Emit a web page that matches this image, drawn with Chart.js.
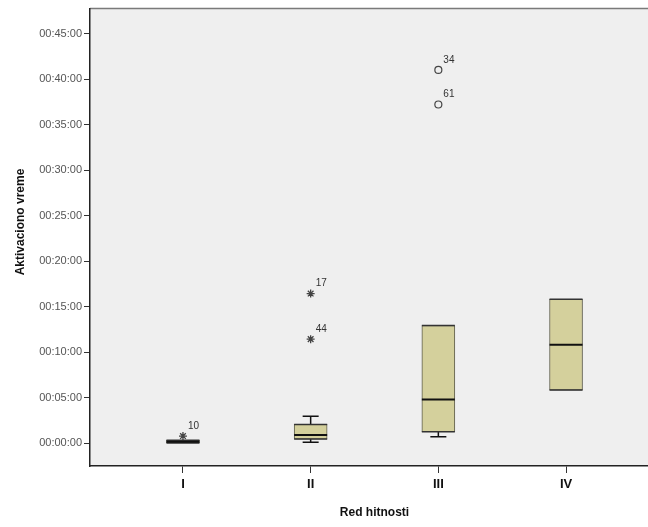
<!DOCTYPE html>
<html>
<head>
<meta charset="utf-8">
<script src="https://cdn.jsdelivr.net/npm/chart.js@4/dist/chart.umd.min.js"></script>
<style>
html,body{margin:0;padding:0;overflow:hidden;background:#fff;}
canvas{display:block;}
</style>
</head>
<body>
<canvas id="c" width="670" height="527"></canvas>
<script>
// ---- data (minutes) ----
const categories = ['I', 'II', 'III', 'IV'];
const whiskerLow  = [0.0, 0.08, 0.69, 5.82];
const q1          = [0.0, 0.44, 1.24, 5.82];
const median      = [0.15, 0.88, 4.8, 10.79];
const q3          = [0.3, 2.05, 12.92, 15.8];
const whiskerHigh = [0.3, 2.96, 12.92, 15.8];
const outlierCat   = [3, 3];
const outlierVal   = [41.0, 37.2];
const outlierLabel = ['34', '61'];
const extremeCat   = [1, 2, 2];
const extremeVal   = [0.77, 16.43, 11.42];
const extremeLabel = ['10', '17', '44'];
const yTicks = [0, 5, 10, 15, 20, 25, 30, 35, 40, 45];

function fmt(v){ const m = String(v).padStart(2,'0'); return '00:' + m + ':00'; }

const boxData = categories.map((c,i)=>({x:i+1, y:[q1[i], q3[i]]}));
const outData = outlierVal.map((v,i)=>({x:outlierCat[i], y:v, label:outlierLabel[i]}));
const extData = extremeVal.map((v,i)=>({x:extremeCat[i], y:v, label:extremeLabel[i]}));

const decor = {
  id:'decor',
  beforeDraw(chart){
    const {ctx, chartArea:a} = chart;
    ctx.save();
    ctx.fillStyle = '#efefef';
    ctx.fillRect(a.left, a.top, a.right-a.left, a.bottom-a.top);
    ctx.strokeStyle = '#7a7a7a';
    ctx.lineWidth = 1.5;
    ctx.beginPath(); ctx.moveTo(a.left, a.top); ctx.lineTo(a.right, a.top); ctx.lineTo(a.right, a.bottom); ctx.stroke();
    ctx.restore();
  },
  afterDatasetsDraw(chart){
    const {ctx} = chart;
    const xs = chart.scales.x, ys = chart.scales.y;
    ctx.save();
    ctx.strokeStyle = '#111';
    categories.forEach((c,i)=>{
      const x = xs.getPixelForValue(i+1);
      const half = 16.5, cap = 8;
      // whiskers
      ctx.lineWidth = 1.5;
      ctx.beginPath();
      ctx.moveTo(x, ys.getPixelForValue(q3[i])); ctx.lineTo(x, ys.getPixelForValue(whiskerHigh[i]));
      ctx.moveTo(x, ys.getPixelForValue(q1[i])); ctx.lineTo(x, ys.getPixelForValue(whiskerLow[i]));
      if (whiskerHigh[i] > q3[i]) { ctx.moveTo(x-cap, ys.getPixelForValue(whiskerHigh[i])); ctx.lineTo(x+cap, ys.getPixelForValue(whiskerHigh[i])); }
      if (whiskerLow[i] < q1[i]) { ctx.moveTo(x-cap, ys.getPixelForValue(whiskerLow[i])); ctx.lineTo(x+cap, ys.getPixelForValue(whiskerLow[i])); }
      ctx.stroke();
      // box ends drawn slightly darker (SPSS style)
      ctx.lineWidth = 1.5;
      ctx.strokeStyle = '#333';
      ctx.beginPath();
      ctx.moveTo(x-half, ys.getPixelForValue(q3[i])); ctx.lineTo(x+half, ys.getPixelForValue(q3[i]));
      ctx.moveTo(x-half, ys.getPixelForValue(q1[i])); ctx.lineTo(x+half, ys.getPixelForValue(q1[i]));
      ctx.stroke();
      // median
      ctx.strokeStyle = '#111';
      ctx.lineWidth = 2;
      ctx.beginPath();
      ctx.moveTo(x-half, ys.getPixelForValue(median[i])); ctx.lineTo(x+half, ys.getPixelForValue(median[i]));
      ctx.stroke();
    });
    // point labels
    ctx.fillStyle = '#333';
    ctx.font = '10px "Liberation Sans", Arial, sans-serif';
    ctx.textAlign = 'left'; ctx.textBaseline = 'bottom';
    [...outData, ...extData].forEach(p=>{
      ctx.fillText(p.label, xs.getPixelForValue(p.x)+5, ys.getPixelForValue(p.y)-5);
    });
    // axis titles
    ctx.fillStyle = '#111';
    ctx.font = 'bold 12px "Liberation Sans", Arial, sans-serif';
    ctx.textAlign = 'center'; ctx.textBaseline = 'middle';
    ctx.fillText('Red hitnosti', (chart.chartArea.left+chart.chartArea.right)/2, 513);
    ctx.translate(21, 222);
    ctx.rotate(-Math.PI/2);
    ctx.fillText('Aktivaciono vreme', 0, 0);
    ctx.restore();
  }
};

new Chart(document.getElementById('c'), {
  type:'bar',
  data:{
    datasets:[
      {type:'bar', data:boxData, backgroundColor:'#d4d09c', borderColor:'#5f5e4c', borderWidth:1, borderSkipped:false, barThickness:33, order:2},
      {type:'scatter', data:outData, pointStyle:'circle', radius:3.5, borderColor:'#444', backgroundColor:'rgba(0,0,0,0)', borderWidth:1.2, order:1},
      {type:'scatter', data:extData, pointStyle:'star', radius:4, borderColor:'#444', backgroundColor:'#444', borderWidth:1.3, order:1}
    ]
  },
  options:{
    responsive:false, animation:false,
    layout:{padding:{top:8, right:11, left:0, bottom:0}},
    plugins:{legend:{display:false}, tooltip:{enabled:false}},
    scales:{
      x:{
        type:'linear', min:0.272, max:4.728, offset:false,
        afterBuildTicks(s){ s.ticks = categories.map((c,i)=>({value:i+1})); },
        afterFit(s){ s.height = 61; },
        ticks:{callback:(v)=>categories[v-1] || '', color:'#111', font:{family:'"Liberation Sans", Arial, sans-serif', size:13, weight:'bold'}, padding:4, maxRotation:0},
        grid:{display:true, offset:false, drawOnChartArea:false, drawTicks:true, tickLength:7, color:'#333', lineWidth:1},
        border:{display:true, color:'#222', width:1.5}
      },
      y:{
        type:'linear', min:-2.52, max:47.74,
        afterBuildTicks(s){ s.ticks = yTicks.map(v=>({value:v})); },
        afterFit(s){ s.width = 90; },
        ticks:{callback:(v)=>fmt(v), color:'#555', font:{family:'"Liberation Sans", Arial, sans-serif', size:11}, padding:2},
        grid:{display:true, drawOnChartArea:false, drawTicks:true, tickLength:6, color:'#333', lineWidth:1},
        border:{display:true, color:'#222', width:1.5}
      }
    }
  },
  plugins:[decor]
});
</script>
</body>
</html>
